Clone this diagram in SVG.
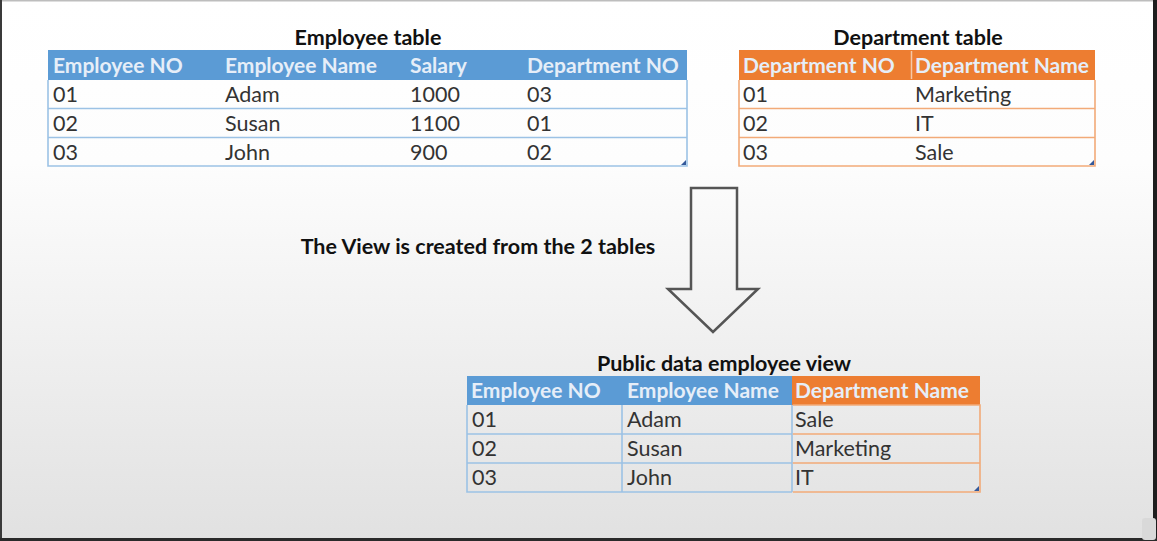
<svg xmlns="http://www.w3.org/2000/svg" width="1157" height="541" viewBox="0 0 1157 541">
<defs>
<linearGradient id="bg" x1="0" y1="0" x2="0" y2="1">
<stop offset="0" stop-color="#ffffff"/>
<stop offset="0.3" stop-color="#fdfdfd"/>
<stop offset="1" stop-color="#e1e1e1"/>
</linearGradient>
</defs>
<style>
text{font-family:Lato,"Liberation Sans",sans-serif;font-size:21.5px}
.title{font-weight:bold;fill:#111}
.hd{font-weight:bold;fill:#e6eef8;font-size:21px}
.cell{fill:#333}
.bhead{fill:#5b9bd5}
.ohead{fill:#ed7d31}
.bline{stroke:#9cc2e5;stroke-width:1.6;fill:none}
.oline{stroke:#f2aa78;stroke-width:1.6;fill:none}
.corner{fill:#34599a}
</style>
<rect x="0" y="0" width="1157" height="541" fill="url(#bg)"/>
<rect x="0" y="0" width="1157" height="1.5" fill="#bdbdbd"/>
<rect x="0" y="0" width="2" height="541" fill="#3a3a3a"/>
<rect x="1153" y="0" width="4" height="541" fill="#1e1e1e"/>
<rect x="0" y="538" width="1157" height="3" fill="#2a2a2a"/>
<rect x="1142" y="518" width="14" height="22" rx="3" fill="#d9d9d9"/>

<g id="employee-table">
<text class="title" x="368" y="45" text-anchor="middle">Employee table</text>
<rect class="bhead" x="48" y="50" width="639" height="30"/>
<path class="bline" d="M48 80V166H687V80M48 108.5H687M48 137.5H687"/>
<text class="hd" x="53" y="73">Employee NO</text>
<text class="hd" x="225" y="73">Employee Name</text>
<text class="hd" x="410" y="73">Salary</text>
<text class="hd" x="527" y="73">Department NO</text>
<text class="cell" x="53" y="102">01</text>
<text class="cell" x="225" y="102">Adam</text>
<text class="cell" x="410" y="102">1000</text>
<text class="cell" x="527" y="102">03</text>
<text class="cell" x="53" y="131">02</text>
<text class="cell" x="225" y="131">Susan</text>
<text class="cell" x="410" y="131">1100</text>
<text class="cell" x="527" y="131">01</text>
<text class="cell" x="53" y="160">03</text>
<text class="cell" x="225" y="160">John</text>
<text class="cell" x="410" y="160">900</text>
<text class="cell" x="527" y="160">02</text>
<polygon class="corner" points="681,165 686,165 686,160"/>
</g>

<g id="department-table">
<text class="title" x="918" y="45" text-anchor="middle">Department table</text>
<rect class="ohead" x="739" y="50" width="356" height="30"/>
<path d="M911.5 51V79" stroke="#f6c7a6" stroke-width="1.5"/>
<path class="oline" d="M739 80V166H1095V80M739 108.5H1095M739 137.5H1095"/>
<text class="hd" x="743" y="73">Department NO</text>
<text class="hd" x="915" y="73">Department Name</text>
<text class="cell" x="743" y="102">01</text>
<text class="cell" x="915" y="102">Marketing</text>
<text class="cell" x="743" y="131">02</text>
<text class="cell" x="915" y="131">IT</text>
<text class="cell" x="743" y="160">03</text>
<text class="cell" x="915" y="160">Sale</text>
<polygon class="corner" points="1089,165 1094,165 1094,160"/>
</g>

<g id="caption">
<text class="title" x="478" y="254" text-anchor="middle">The View is created from the 2 tables</text>
</g>

<g id="connectors">
<polygon points="691,188 737,188 737,289 758,289 713,332 668,289 691,289" fill="none" stroke="#555" stroke-width="2.5" stroke-linejoin="miter"/>
</g>

<g id="view-table">
<text class="title" x="724" y="371" text-anchor="middle">Public data employee view</text>
<rect class="bhead" x="467" y="376" width="325" height="29"/>
<rect class="ohead" x="792" y="376" width="188" height="29"/>
<path class="bline" d="M792 492H467V405M467 434H792M467 463H792M622 405V492M792 405V492"/>
<path class="oline" d="M792.8 405H980V492H792.8M792.8 434H980M792.8 463H980"/>
<text class="hd" x="471" y="398">Employee NO</text>
<text class="hd" x="627" y="398">Employee Name</text>
<text class="hd" x="795" y="398">Department Name</text>
<text class="cell" x="472" y="427">01</text>
<text class="cell" x="627" y="427">Adam</text>
<text class="cell" x="795" y="427">Sale</text>
<text class="cell" x="472" y="456">02</text>
<text class="cell" x="627" y="456">Susan</text>
<text class="cell" x="795" y="456">Marketing</text>
<text class="cell" x="472" y="485">03</text>
<text class="cell" x="627" y="485">John</text>
<text class="cell" x="795" y="485">IT</text>
<polygon class="corner" points="974,491 979,491 979,486"/>
</g>
</svg>
